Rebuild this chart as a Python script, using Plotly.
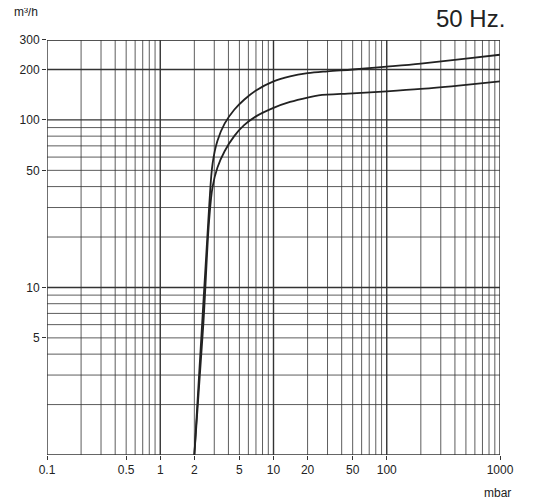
import plotly.graph_objects as go

# pressure (mbar) vs pumping speed (m3/h)
p_upper = [2, 2.4, 2.7, 2.9, 3.2, 3.7, 4.5, 5.5, 7, 10, 14, 20, 30, 50, 100, 200, 500, 1000]
s_upper = [1, 8, 30, 55, 75, 95, 115, 132, 150, 170, 182, 190, 195, 200, 208, 217, 232, 245]
p_lower = [2, 2.4, 2.7, 2.9, 3.2, 3.7, 4.5, 5.5, 7, 10, 14, 20, 25, 50, 100, 200, 500, 1000]
s_lower = [1, 6, 25, 40, 52, 65, 80, 93, 105, 118, 128, 136, 140, 144, 148, 153, 162, 170]

x_ticks = [0.1, 0.5, 1, 2, 5, 10, 20, 50, 100, 1000]
x_labels = ["0.1", "0.5", "1", "2", "5", "10", "20", "50", "100", "1000"]
y_ticks = [5, 10, 50, 100, 200, 300]
y_labels = ["5", "10", "50", "100", "200", "300"]

fig = go.Figure()
for p, s in [(p_upper, s_upper), (p_lower, s_lower)]:
    fig.add_trace(go.Scatter(x=p, y=s, mode="lines", line=dict(color="#222", width=1.8, shape="spline"),
                             showlegend=False))

shapes = []
for dec in [0.1, 1, 10, 100]:
    for k in range(1, 10):
        v = dec * k
        shapes.append(dict(type="line", xref="x", yref="paper", x0=v, x1=v, y0=0, y1=1,
                           line=dict(color="#333", width=1.4 if k == 1 else 0.8), layer="below"))
shapes.append(dict(type="line", xref="x", yref="paper", x0=1000, x1=1000, y0=0, y1=1,
                   line=dict(color="#333", width=1.4)))
for dec in [1, 10, 100]:
    for k in range(1, 10):
        v = dec * k
        if v > 300:
            break
        w = 1.4 if k == 1 or v == 200 else 0.8
        shapes.append(dict(type="line", xref="paper", yref="y", x0=0, x1=1, y0=v, y1=v,
                           line=dict(color="#333", width=w), layer="below"))
shapes.append(dict(type="line", xref="paper", yref="y", x0=0, x1=1, y0=300, y1=300,
                   line=dict(color="#333", width=1.4)))

fig.update_layout(
    width=525, height=492, margin=dict(l=37, r=33, t=32, b=45),
    plot_bgcolor="white", paper_bgcolor="white",
    font=dict(family="Liberation Sans, Arial", size=12, color="#222"),
    shapes=shapes,
    xaxis=dict(type="log", range=[-1, 3], tickvals=x_ticks, ticktext=x_labels, showgrid=False,
               ticks="outside", ticklen=4, tickcolor="#333", zeroline=False),
    yaxis=dict(type="log", range=[0, 2.477], tickvals=y_ticks, ticktext=y_labels, showgrid=False,
               ticks="outside", ticklen=4, tickcolor="#333", zeroline=False),
    annotations=[
        dict(text="m³/h", xref="paper", yref="paper", x=-0.077, y=1.067, showarrow=False,
             xanchor="left", yanchor="middle", font=dict(size=12)),
        dict(text="mbar", xref="paper", yref="paper", x=0.995, y=-0.07, showarrow=False,
             xanchor="center", yanchor="top", font=dict(size=12)),
        dict(text="50 Hz.", xref="paper", yref="paper", x=1.015, y=1.053, showarrow=False,
             xanchor="right", yanchor="middle", font=dict(size=24)),
    ],
)

fig.write_html("out.html")
